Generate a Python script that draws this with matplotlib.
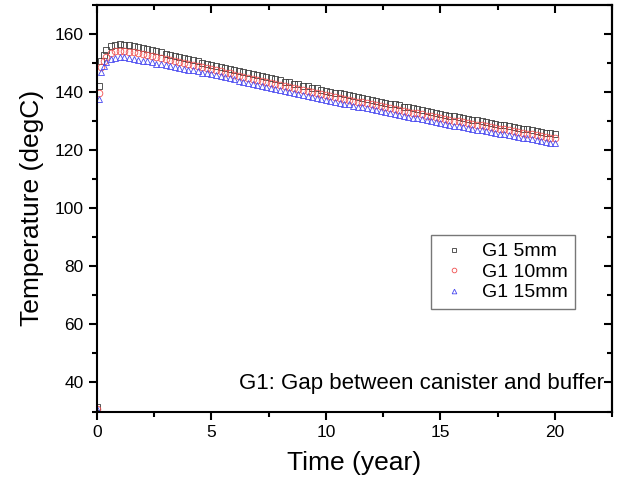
import numpy as np
import matplotlib
matplotlib.use("Agg")
import matplotlib.pyplot as plt
from matplotlib.ticker import MultipleLocator

plt.rcParams['font.family'] = ['Liberation Sans', 'DejaVu Sans']

# time (year)
time = [0.0, 0.1, 0.2, 0.3, 0.4] + [round(v, 1) for v in np.arange(0.6, 20.01, 0.2)]

g1_5mm = [31.5, 142.0, 150.5, 152.8, 154.3,
          155.7, 156.2, 156.4, 156.3, 156.1, 155.8, 155.5, 155.2,
          154.8, 154.4, 154.0, 153.6, 153.2, 152.8, 152.4, 152.0, 151.6, 151.3, 150.9, 150.5, 150.1, 149.7, 149.3,
          148.9, 148.6, 148.2, 147.9, 147.5, 147.1, 146.8, 146.4, 146.1, 145.7, 145.4, 145.0, 144.7, 144.3, 144.0,
          143.6, 143.3, 142.9, 142.6, 142.2, 141.9, 141.5, 141.2, 140.8, 140.5,
          140.1, 139.8, 139.5, 139.2, 138.9, 138.5, 138.2, 137.9, 137.6, 137.3, 136.9, 136.6, 136.3, 136.0, 135.7,
          135.4, 135.0, 134.7, 134.4, 134.1, 133.8, 133.4, 133.1, 132.8, 132.5,
          132.2, 131.9, 131.6, 131.4, 131.1, 130.8, 130.5, 130.2, 130.0, 129.7, 129.4, 129.1, 128.8, 128.6, 128.3,
          128.0, 127.7, 127.4, 127.2, 126.9, 126.6, 126.3, 126.0, 125.8, 125.5]

g1_10mm = [31.0, 139.8, 148.6, 150.8, 152.2,
           153.5, 154.0, 154.2, 154.1, 153.9, 153.6, 153.3, 153.0,
           152.6, 152.3, 152.0, 151.6, 151.2, 150.9, 150.5, 150.2, 149.9, 149.6, 149.2, 148.9, 148.5, 148.2, 147.8,
           147.4, 147.1, 146.7, 146.4, 146.0, 145.6, 145.3, 144.9, 144.6, 144.2, 143.9, 143.5, 143.2, 142.8, 142.5,
           142.1, 141.8, 141.4, 141.1, 140.7, 140.4, 140.0, 139.7, 139.3, 139.0,
           138.6, 138.3, 138.0, 137.7, 137.4, 137.0, 136.7, 136.4, 136.1, 135.8, 135.4, 135.1, 134.8, 134.5, 134.2,
           133.9, 133.5, 133.2, 132.9, 132.6, 132.3, 131.9, 131.6, 131.3, 131.0,
           130.7, 130.4, 130.1, 129.9, 129.6, 129.3, 129.0, 128.7, 128.5, 128.2, 127.9, 127.6, 127.3, 127.1, 126.8,
           126.5, 126.2, 125.9, 125.7, 125.4, 125.1, 124.8, 124.5, 124.3, 124.0]

g1_15mm = [30.8, 137.5, 146.8, 149.0, 150.4,
           151.3, 151.8, 152.0, 151.9, 151.7, 151.4, 151.1, 150.8,
           150.5, 150.2, 149.8, 149.5, 149.2, 148.9, 148.6, 148.2, 147.9, 147.7, 147.4, 147.1, 146.7, 146.4, 146.1,
           145.7, 145.4, 145.0, 144.7, 144.3, 143.9, 143.6, 143.2, 142.9, 142.5, 142.2, 141.8, 141.5, 141.1, 140.8,
           140.4, 140.1, 139.7, 139.4, 139.0, 138.7, 138.3, 138.0, 137.6, 137.3,
           136.9, 136.6, 136.3, 136.0, 135.7, 135.3, 135.0, 134.7, 134.4, 134.1, 133.7, 133.4, 133.1, 132.8, 132.5,
           132.2, 131.8, 131.5, 131.2, 130.9, 130.6, 130.2, 129.9, 129.6, 129.3,
           129.0, 128.7, 128.4, 128.2, 127.9, 127.6, 127.3, 127.0, 126.8, 126.5, 126.2, 125.9, 125.6, 125.4, 125.1,
           124.8, 124.5, 124.2, 124.0, 123.7, 123.4, 123.1, 122.8, 122.6, 122.3]

labels = ["G1 5mm", "G1 10mm", "G1 15mm"]
xticks = [0, 5, 10, 15, 20]
yticks = [40, 60, 80, 100, 120, 140, 160]

fig = plt.figure(figsize=(6.17, 4.83), dpi=100)
ax = fig.add_axes([0.157, 0.148, 0.835, 0.842])

ms = 4.8
ax.plot(time, g1_5mm, linestyle='none', marker='s', ms=ms, mfc='none', mec='#3a3a3a', mew=0.6, label=labels[0])
ax.plot(time, g1_10mm, linestyle='none', marker='o', ms=ms, mfc='none', mec='#f05050', mew=0.6, label=labels[1])
ax.plot(time, g1_15mm, linestyle='none', marker='^', ms=ms, mfc='none', mec='#4848f0', mew=0.6, label=labels[2])

ax.set_xlim(0, 22.5)
ax.set_ylim(30, 170)
ax.set_xticks(xticks)
ax.set_yticks(yticks)
ax.xaxis.set_minor_locator(MultipleLocator(2.5))
ax.yaxis.set_minor_locator(MultipleLocator(10))
ax.tick_params(which='major', direction='out', length=6, width=1.5, labelsize=12.5)
ax.tick_params(which='minor', direction='out', length=3.5, width=1.5)
for s in ax.spines.values():
    s.set_linewidth(1.5)

secx = ax.secondary_xaxis('top')
secx.set_xticks(xticks)
secx.xaxis.set_minor_locator(MultipleLocator(2.5))
secx.tick_params(which='major', direction='in', length=6, width=1.5, labeltop=False)
secx.tick_params(which='minor', direction='in', length=3.5, width=1.5)
secy = ax.secondary_yaxis('right')
secy.set_yticks(yticks)
secy.yaxis.set_minor_locator(MultipleLocator(10))
secy.tick_params(which='major', direction='in', length=6, width=1.5, labelright=False)
secy.tick_params(which='minor', direction='in', length=3.5, width=1.5)
for sa in (secx, secy):
    for s in sa.spines.values():
        s.set_linewidth(1.5)

ax.set_xlabel("Time (year)", fontsize=19, labelpad=8)
ax.set_ylabel("Temperature (degC)", fontsize=19, labelpad=8)

leg = ax.legend(loc='upper left', bbox_to_anchor=(0.649, 0.434), borderaxespad=0, fontsize=14,
                frameon=True, fancybox=False, edgecolor='#555555', markerscale=0.7, handlelength=1.5,
                handletextpad=0.7, borderpad=0.4, labelspacing=0.15)
leg.get_frame().set_linewidth(1.0)

ax.text(0.985, 0.07, "G1: Gap between canister and buffer", transform=ax.transAxes,
        ha='right', va='center', fontsize=16)

fig.savefig("out.png", dpi=100)
